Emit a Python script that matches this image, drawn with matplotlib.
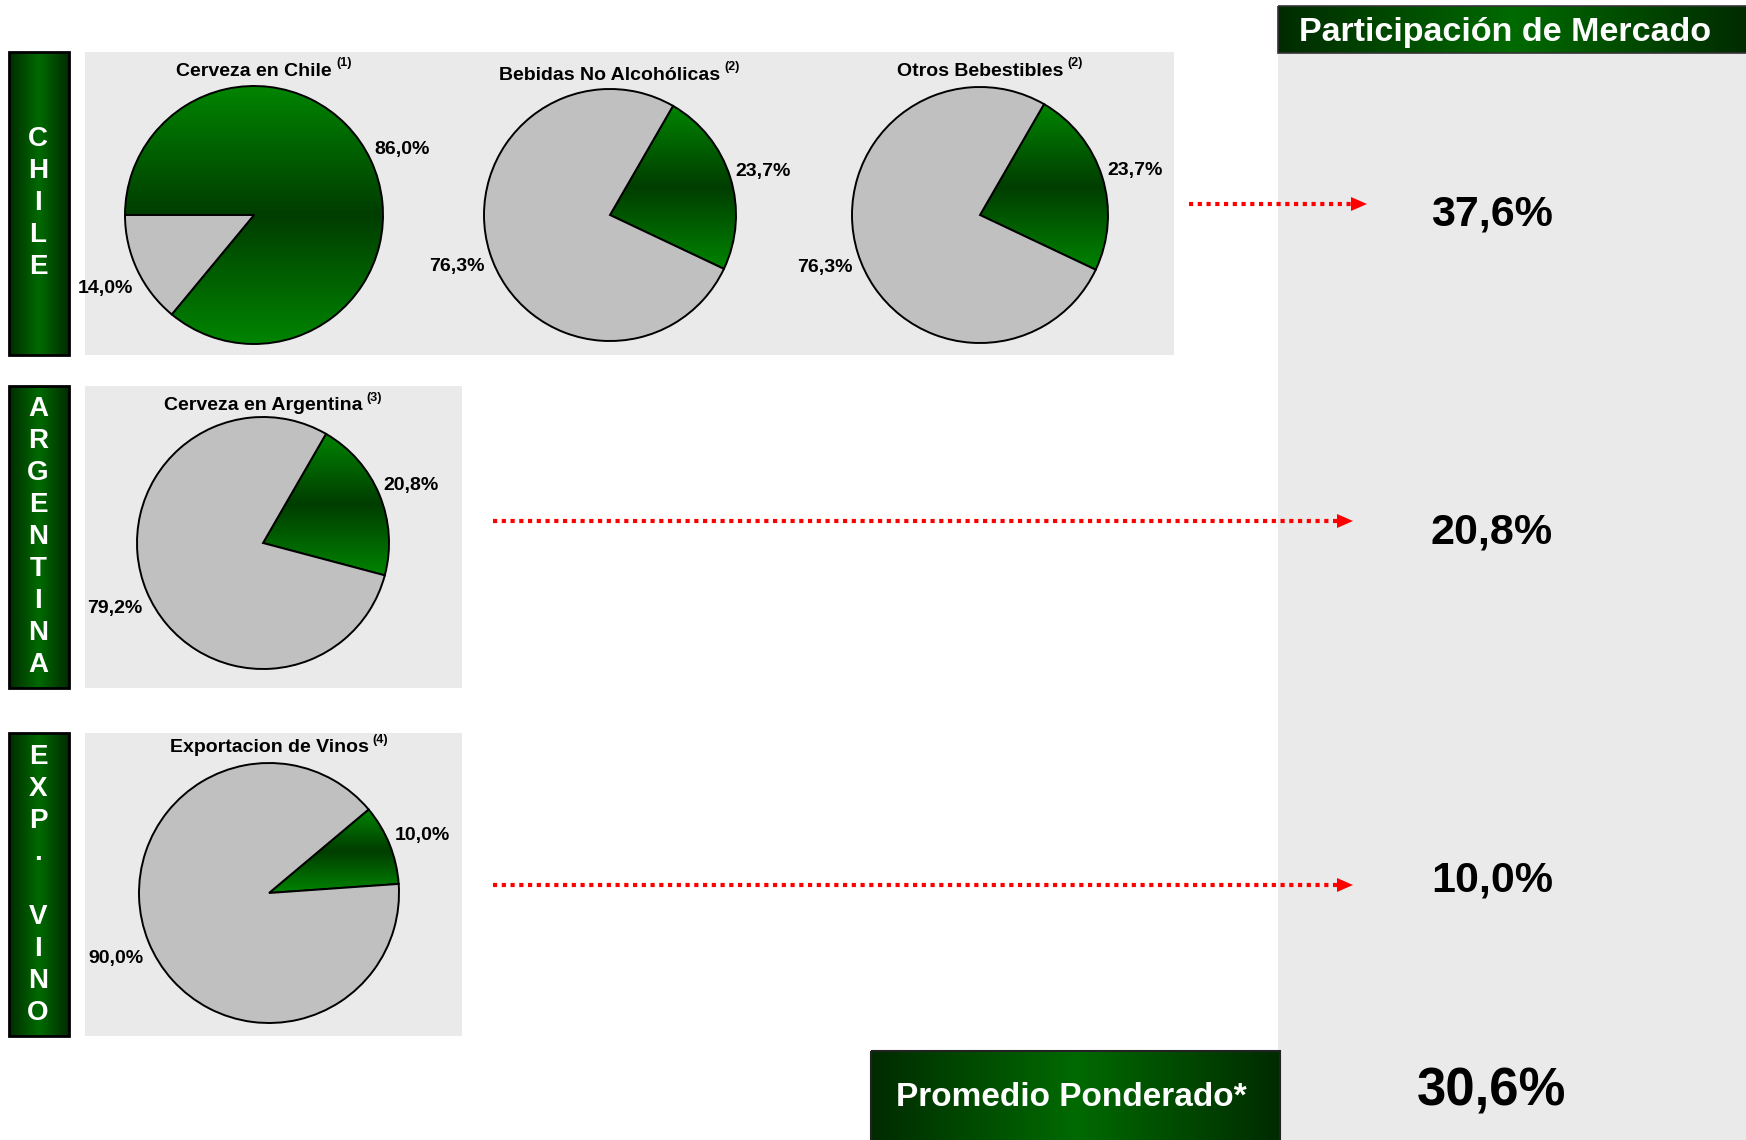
import matplotlib
matplotlib.use("Agg")
import matplotlib.pyplot as plt
import numpy as np
from matplotlib.colors import LinearSegmentedColormap
from matplotlib.patches import Rectangle, Polygon

plt.rcParams['font.family'] = ['Liberation Sans', 'DejaVu Sans']

# ---------------- data ----------------
pie_titles = ["Cerveza en Chile", "Bebidas No Alcohólicas", "Otros Bebestibles",
              "Cerveza en Argentina", "Exportacion de Vinos"]
pie_notes = ["(1)", "(2)", "(2)", "(3)", "(4)"]
share_values = [86.0, 23.7, 23.7, 20.8, 10.0]
rest_values = [14.0, 76.3, 76.3, 79.2, 90.0]
segments = ["CHILE", "ARGENTINA", "EXP. VINO"]
market_share = [37.6, 20.8, 10.0]
weighted_average = 30.6
header_label = "Participación de Mercado"
average_label = "Promedio Ponderado*"

# ---------------- layout (pixels) ----------------
W, H = 1746, 1140
fig = plt.figure(figsize=(W / 100, H / 100), dpi=100)
fig.patch.set_facecolor('white')
ax = fig.add_axes([0, 0, 1, 1])
ax.set_xlim(0, W)
ax.set_ylim(H, 0)
ax.axis('off')

PANEL = '#EAEAEA'
GRAY = '#C0C0C0'

def fmt(v):
    return f"{v:.1f}%".replace('.', ',')

box_cmap = LinearSegmentedColormap.from_list('box', ['#002b00', '#006a00', '#002b00'])
wedge_cmap = LinearSegmentedColormap.from_list('wg', ['#008400', '#003d00', '#008400'])

def grad_box(x0, y0, x1, y1, edge='black', lw=1.5, z=2):
    g = np.linspace(0, 1, 256).reshape(1, -1)
    ax.imshow(g, extent=(x0, x1, y1, y0), aspect='auto', cmap=box_cmap, zorder=z,
              interpolation='bicubic')
    ax.add_patch(Rectangle((x0, y0), x1 - x0, y1 - y0, fill=False, edgecolor=edge,
                           lw=lw, zorder=z + 0.1))

# gray panels
panels = [(85, 52, 1174, 355), (85, 386, 462, 688), (85, 733, 462, 1036)]
for (x0, y0, x1, y1) in panels:
    ax.add_patch(Rectangle((x0, y0), x1 - x0, y1 - y0, facecolor=PANEL, edgecolor='none', zorder=1))

# right column
ax.add_patch(Rectangle((1278, 52), W - 1278, H - 52, facecolor=PANEL, edgecolor='none', zorder=1))

# header
grad_box(1278, 6, W + 2, 53, edge='#333333', lw=1.2)
ax.text(1505, 32, header_label, color='white', fontsize=24.5, fontweight='bold',
        ha='center', va='center', zorder=5)

# segment label boxes
seg_boxes = [(9, 52, 69, 355), (9, 386, 69, 688), (9, 733, 69, 1036)]
for label, (x0, y0, x1, y1) in zip(segments, seg_boxes):
    grad_box(x0, y0, x1, y1, edge='black', lw=2)
    n = len(label)
    cy = (y0 + y1) / 2
    step = 32
    for i, ch in enumerate(label):
        y = cy + (i - (n - 1) / 2) * step
        ax.text((x0 + x1) / 2 - 1, y, ch, color='white', fontsize=20, fontweight='bold',
                ha='center', va='center', zorder=5)

# arrows
arrows = [(1189, 1367, 204), (493, 1353, 521), (493, 1353, 885)]
for (xs, xe, y) in arrows:
    ax.plot([xs, xe - 14], [y, y], color='#FF0000', lw=3.0, linestyle=(0, (1, 1.1)),
            solid_capstyle='butt', dash_capstyle='butt', zorder=4)
    ax.add_patch(Polygon([[xe - 16, y - 7], [xe, y], [xe - 16, y + 7]], closed=True,
                         facecolor='#FF0000', edgecolor='none', zorder=4))

# market share values
value_y = [215, 532, 881]
for v, y in zip(market_share, value_y):
    ax.text(1492, y, fmt(v), fontsize=31, fontweight='bold', ha='center', va='center', zorder=5)

# weighted average
grad_box(871, 1051, 1280, H + 3, edge='#222222', lw=1.5)
ax.text(1071, 1098, average_label, color='white', fontsize=24, fontweight='bold',
        ha='center', va='center', zorder=5)
ax.text(1492, 1092, fmt(weighted_average), fontsize=38, fontweight='bold',
        ha='center', va='center', zorder=5)

# ---------------- pies ----------------
pie_pos = [(254, 215, 129), (610, 215, 126), (980, 215, 128), (263, 543, 126), (269, 893, 130)]
start_angles = [180, 60, 60, 60, 40]
title_y = [71, 75, 71, 406, 748]

for k in range(len(pie_titles)):
    cx, cy, r = pie_pos[k]
    L = 1.7
    half = r * L
    pax = fig.add_axes([(cx - half) / W, 1 - (cy + half) / H, 2 * half / W, 2 * half / H])
    pax.patch.set_visible(False)
    wedges, _, autotexts = pax.pie(
        [share_values[k], rest_values[k]], colors=['#006600', GRAY],
        startangle=start_angles[k], counterclock=False, radius=1.0,
        autopct=fmt, pctdistance=1.27,
        wedgeprops=dict(edgecolor='black', linewidth=1.4),
        textprops=dict(fontsize=14, fontweight='bold', color='black'))
    for at in autotexts:
        x, y = at.get_position()
        at.set_position((x, y - 0.03))
    w = wedges[0]
    ext = w.get_path().get_extents()
    g = np.linspace(0, 1, 256).reshape(-1, 1)
    im = pax.imshow(g, extent=(ext.x0, ext.x1, ext.y0, ext.y1), aspect='auto',
                    cmap=wedge_cmap, zorder=0.5, interpolation='bicubic')
    im.set_clip_path(w)
    w.set_facecolor('none')
    w.set_zorder(1)
    wedges[1].set_zorder(1)
    pax.set_xlim(-L, L)
    pax.set_ylim(-L, L)
    pax.set_aspect('equal')
    pax.axis('off')

    t = ax.text(cx, title_y[k], pie_titles[k], fontsize=14, fontweight='bold',
                ha='center', va='center', zorder=5)
    ax.annotate(pie_notes[k], xy=(1, 0.6), xycoords=t, xytext=(3, 0),
                textcoords='offset points', fontsize=9, fontweight='bold',
                ha='left', va='bottom', zorder=5)

ax.set_xlim(0, W)
ax.set_ylim(H, 0)
fig.savefig('out.png', dpi=100, facecolor='white')
